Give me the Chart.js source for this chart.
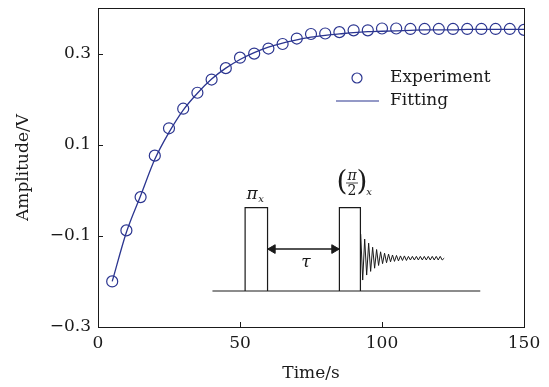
<!DOCTYPE html>
<html>
<head>
<meta charset="utf-8">
<script src="https://cdn.jsdelivr.net/npm/chart.js@4.4.1/dist/chart.umd.min.js"></script>
<style>
  html, body { margin: 0; padding: 0; background: #fff; }
  #wrap { width: 549px; height: 387px; }
</style>
</head>
<body>
<div id="wrap"><canvas id="chart" width="549" height="387"></canvas></div>
<script>
// experiment: time (s) and amplitude (V)
var times = [5, 10, 15, 20, 25, 30, 35, 40, 45, 50, 55, 60, 65, 70, 75,
             80, 85, 90, 95, 100, 105, 110, 115, 120, 125, 130, 135, 140, 145, 150];
var experiment = [-0.200, -0.088, -0.015, 0.076, 0.136, 0.179, 0.214, 0.243, 0.268, 0.291,
                  0.300, 0.311, 0.321, 0.333, 0.343, 0.344, 0.347, 0.351, 0.351, 0.355,
                  0.355, 0.354, 0.354, 0.354, 0.354, 0.354, 0.354, 0.354, 0.354, 0.352];
var fitting = [-0.200, -0.092, -0.012, 0.068, 0.127, 0.176, 0.213, 0.244, 0.268, 0.287,
               0.302, 0.314, 0.323, 0.330, 0.336, 0.340, 0.343, 0.346, 0.348, 0.349,
               0.350, 0.351, 0.352, 0.352, 0.352, 0.353, 0.353, 0.353, 0.353, 0.353];

var xTicks = [0, 50, 100, 150];
var yTicks = [-0.3, -0.1, 0.1, 0.3];
var yTickLabels = ['\u22120.3', '\u22120.1', '0.1', '0.3'];

// pulse-sequence sketch (inset), in axis units
var baseT = [40.3, 134.6];
var baseV = [-0.221, -0.221];
var pulse1T = [51.8, 51.8, 59.7, 59.7];
var pulse2T = [85.0, 85.0, 92.4, 92.4];
var pulseV = [-0.221, -0.038, -0.038, -0.221];
var arrowT = [61.5, 83.2];
var arrowV = [-0.129, -0.129];
var wiggleT = [92.5, 93.2, 93.9, 94.6, 95.3, 96.0, 96.7, 97.4, 98.1, 98.8,
               99.5, 100.2, 100.9, 101.6, 102.3, 103.0, 103.7, 104.4, 105.1, 105.8,
               106.5, 107.2, 107.9, 108.6, 109.3, 110.0, 110.7, 111.4, 112.1, 112.8,
               113.5, 114.2, 114.9, 115.6, 116.3, 117.0, 117.7, 118.4, 119.1, 119.8,
               120.5, 121.2, 121.9];
var wiggleV = [-0.096, -0.197, -0.107, -0.186, -0.116, -0.178, -0.125, -0.171, -0.130, -0.165,
               -0.135, -0.161, -0.138, -0.159, -0.140, -0.157, -0.142, -0.156, -0.143, -0.155,
               -0.144, -0.154, -0.144, -0.154, -0.145, -0.153, -0.145, -0.153, -0.145, -0.153,
               -0.145, -0.153, -0.145, -0.153, -0.145, -0.153, -0.145, -0.153, -0.145, -0.153,
               -0.145, -0.153, -0.149];

var blue = '#2b3590';
var ink = '#1a1a1a';
var serif = "'DejaVu Serif', serif";

function pts(xs, ys) {
  return xs.map(function(x, i) { return { x: x, y: ys[i] }; });
}
function sketch(data) {
  return { data: data, borderColor: ink, borderWidth: 1.2, pointRadius: 0, showLine: true, fill: false, tension: 0 };
}

// frame, inward ticks, legend and inset labels
var decor = {
  id: 'decor',
  afterDraw: function(chart) {
    var c = chart.ctx, a = chart.chartArea, xs = chart.scales.x, ys = chart.scales.y;
    c.save();
    c.strokeStyle = ink;
    c.lineWidth = 1;
    c.strokeRect(a.left + 0.5, a.top + 0.5, a.right - a.left, a.bottom - a.top);
    c.beginPath();
    xTicks.forEach(function(t) {
      var px = Math.round(xs.getPixelForValue(t)) + 0.5;
      c.moveTo(px, a.bottom); c.lineTo(px, a.bottom - 5);
    });
    yTicks.forEach(function(t) {
      var py = Math.round(ys.getPixelForValue(t)) + 0.5;
      c.moveTo(a.left, py); c.lineTo(a.left + 5, py);
    });
    c.stroke();

    // legend
    c.fillStyle = ink;
    c.font = '17px ' + serif;
    c.textBaseline = 'middle';
    c.textAlign = 'left';
    c.strokeStyle = blue;
    c.lineWidth = 1.2;
    c.beginPath(); c.arc(357, 78, 5, 0, Math.PI * 2); c.stroke();
    c.beginPath(); c.moveTo(336, 101); c.lineTo(379, 101); c.stroke();
    c.fillText('Experiment', 390, 78);
    c.fillText('Fitting', 390, 101);

    // inset labels
    c.fillStyle = ink;
    c.textAlign = 'center';
    c.font = 'italic 17px ' + serif;
    c.fillText('\u03c0', 252, 195);
    c.font = 'italic 10px ' + serif;
    c.fillText('x', 261, 199);
    c.font = 'italic 17px ' + serif;
    c.fillText('\u03c4', 306, 263);
    // (pi/2)_x
    c.font = 'italic 14px ' + serif;
    c.fillText('\u03c0', 352, 176);
    c.font = '14px ' + serif;
    c.fillText('2', 352, 191);
    c.beginPath(); c.strokeStyle = ink; c.lineWidth = 0.8;
    c.moveTo(346, 183); c.lineTo(358, 183); c.stroke();
    c.font = '28px ' + serif;
    c.fillText('(', 342, 183);
    c.fillText(')', 362, 183);
    c.font = 'italic 10px ' + serif;
    c.fillText('x', 369, 192);
    c.restore();
  }
};

new Chart(document.getElementById('chart'), {
  type: 'scatter',
  data: {
    datasets: [
      sketch(pts(baseT, baseV)),
      sketch(pts(pulse1T, pulseV)),
      sketch(pts(pulse2T, pulseV)),
      Object.assign(sketch(pts(arrowT, arrowV)), {
        borderWidth: 1.4, pointRadius: 5, pointStyle: 'triangle',
        rotation: [-90, 90], pointBackgroundColor: ink, pointBorderColor: ink, pointBorderWidth: 1
      }),
      Object.assign(sketch(pts(wiggleT, wiggleV)), { borderWidth: 1 }),
      {
        label: 'Fitting',
        data: pts(times, fitting),
        showLine: true,
        borderColor: blue,
        borderWidth: 1.3,
        pointRadius: 0,
        cubicInterpolationMode: 'monotone'
      },
      {
        label: 'Experiment',
        data: pts(times, experiment),
        showLine: false,
        pointStyle: 'circle',
        pointRadius: 5.5,
        pointBorderWidth: 1.2,
        pointBorderColor: blue,
        pointBackgroundColor: 'rgba(0,0,0,0)'
      }
    ]
  },
  options: {
    responsive: false,
    animation: false,
    devicePixelRatio: 1,
    layout: { padding: { left: 0, top: 8, right: 25, bottom: 0 } },
    plugins: { legend: { display: false }, tooltip: { enabled: false } },
    scales: {
      x: {
        type: 'linear',
        min: 0, max: 150,
        afterBuildTicks: function(s) { s.ticks = xTicks.map(function(v) { return { value: v }; }); },
        afterFit: function(s) { s.height = 60; s.paddingLeft = 0; s.paddingRight = 0; },
        grid: { display: false, drawTicks: false },
        border: { display: false },
        ticks: { color: ink, padding: 6, font: { family: serif, size: 17 }, maxRotation: 0 },
        title: { display: true, text: 'Time/s', color: ink, font: { family: serif, size: 17 }, padding: { top: 0, bottom: 3 } }
      },
      y: {
        type: 'linear',
        min: -0.3, max: 0.4,
        afterBuildTicks: function(s) { s.ticks = yTicks.map(function(v) { return { value: v }; }); },
        afterFit: function(s) { s.width = 98; s.paddingTop = 0; s.paddingBottom = 0; },
        grid: { display: false, drawTicks: false },
        border: { display: false },
        ticks: {
          color: ink, padding: 7, font: { family: serif, size: 17 },
          callback: function(v) { var i = yTicks.indexOf(v); return i >= 0 ? yTickLabels[i] : ''; }
        },
        title: { display: true, text: 'Amplitude/V', color: ink, font: { family: serif, size: 17 }, padding: { top: 13, bottom: 0 } }
      }
    }
  },
  plugins: [decor]
});
</script>
</body>
</html>
